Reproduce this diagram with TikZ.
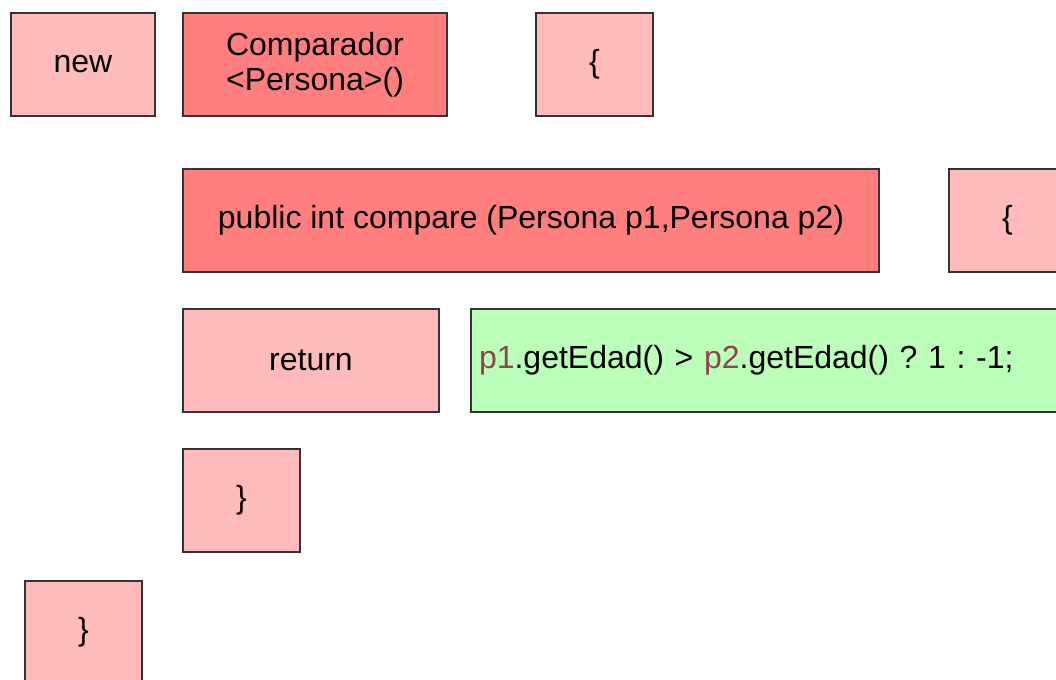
\documentclass[tikz,border=0pt]{standalone}
\usepackage{fontspec}
\setmainfont{Liberation Sans}
\usetikzlibrary{positioning}
\definecolor{lightred}{HTML}{FFBBBB}
\definecolor{darkred}{HTML}{FF7F7F}
\definecolor{lightgreen}{HTML}{BBFFBB}
\definecolor{varbrown}{HTML}{8C4848}
\definecolor{edgegray}{HTML}{333333}
\frenchspacing

\begin{document}
\begin{tikzpicture}[x=0.5pt, y=-0.5pt,
    box/.style={draw=edgegray, line width=1pt, anchor=north west, inner sep=0pt,
                align=center, minimum height=51.5pt, font=\fontsize{16}{17.5}\selectfont},
    light/.style={box, fill=lightred},
    dark/.style={box, fill=darkred},
    code/.style={box, fill=lightgreen, inner xsep=4pt, text width=292pt, align=left}]
    \useasboundingbox (0,0) rectangle (1056,680);
    \clip (0,0) rectangle (1056,680);

    % first line
    \node[light, minimum width=72pt] (new) at (10,12) {new};
    \node[dark, minimum width=132pt] (comparador) at (182,12) {Comparador\\<Persona>()};
    \node[light, minimum width=58.5pt] (openclass) at (535,12) {\{};

    % method header
    \node[dark, minimum width=348pt] (compare) at (182,168) {public int compare (Persona p1,Persona p2)};
    \node[light, minimum width=58.5pt] (openmethod) at (948,168) {\{};

    % body
    \node[light, minimum width=128pt] (return) at (182,308) {return};
    \node[code, minimum width=300pt] (expr) at (470,308)
        {\textcolor{varbrown}{p1}.getEdad() > \textcolor{varbrown}{p2}.getEdad() ? 1 : -1;};

    % closing braces
    \node[light, minimum width=58.5pt] (closemethod) at (182,448) {\}};
    \node[light, minimum width=58.5pt] (closeclass) at (24,580) {\}};
\end{tikzpicture}
\end{document}
